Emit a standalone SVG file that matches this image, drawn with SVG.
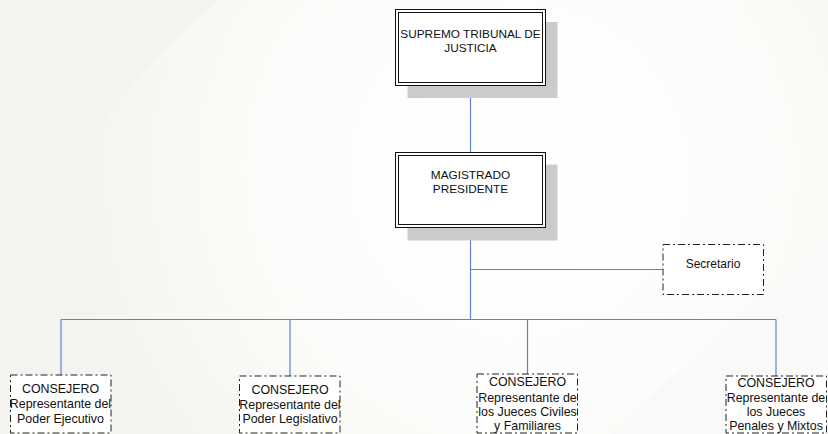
<svg xmlns="http://www.w3.org/2000/svg" width="828" height="434" viewBox="0 0 828 434">
<defs>
<radialGradient id="bg" cx="520" cy="170" r="460" gradientUnits="userSpaceOnUse">
<stop offset="0" stop-color="#ffffff"/>
<stop offset="0.55" stop-color="#fcfcfa"/>
<stop offset="1" stop-color="#f3f4ef"/>
</radialGradient>
<style>
.lbl{font-family:"Liberation Sans",Arial,sans-serif;font-size:12.4px;fill:#111;text-anchor:middle}
.top{font-size:11.8px}
.sec{font-size:12px}
.dbl{fill:#fff;stroke:#111;stroke-width:1}
.inner{fill:none;stroke:#111;stroke-width:1}
.shadow{fill:#cbcbcb}
.dash{fill:#fff;stroke:#222;stroke-width:1;stroke-dasharray:7 3 2 3}
.conn{stroke:#5a86c9;stroke-width:1.2;fill:none}
</style>
</defs>
<rect x="0" y="0" width="828" height="434" fill="#f3f4ef"/>
<path d="M220,0 C130,70 40,190 0,340 L0,434 L828,434 L828,0 Z" fill="url(#bg)"/>
<path d="M828,225 C760,300 680,370 610,434 L828,434 Z" fill="#f9f9f7"/>

<g id="connectors">
<line class="conn" x1="470.5" y1="85" x2="470.5" y2="152"/>
<line class="conn" x1="470.5" y1="227" x2="470.5" y2="319.5"/>
<line class="conn" x1="470.5" y1="269.5" x2="663" y2="269.5"/>
<line class="conn" x1="61" y1="319.5" x2="776" y2="319.5"/>
<line class="conn" x1="61" y1="319.5" x2="61" y2="375"/>
<line class="conn" x1="290" y1="319.5" x2="290" y2="376"/>
<line class="conn" x1="527.5" y1="319.5" x2="527.5" y2="374"/>
<line class="conn" x1="776" y1="319.5" x2="776" y2="376"/>
</g>

<g id="node-supremo">
<rect class="shadow" x="407.5" y="22" width="150" height="76"/>
<rect class="dbl" x="395.5" y="9.5" width="150" height="76"/>
<rect class="inner" x="398.5" y="12.5" width="144" height="70"/>
<text class="lbl top" x="470.5" y="37.5">SUPREMO TRIBUNAL DE</text>
<text class="lbl top" x="470.5" y="51.5">JUSTICIA</text>
</g>

<g id="node-magistrado">
<rect class="shadow" x="407.5" y="164.5" width="150" height="76"/>
<rect class="dbl" x="395.5" y="152.5" width="150" height="75"/>
<rect class="inner" x="398.5" y="155.5" width="144" height="69"/>
<text class="lbl top" x="470.5" y="178.5">MAGISTRADO</text>
<text class="lbl top" x="470.5" y="192.5">PRESIDENTE</text>
</g>

<g id="node-secretario">
<rect class="dash" x="663" y="244.5" width="100.5" height="50"/>
<text class="lbl sec" x="713" y="268">Secretario</text>
</g>

<g id="node-ejecutivo">
<rect class="dash" x="10.5" y="375" width="100.5" height="58"/>
<text class="lbl" x="60.5" y="392.5">CONSEJERO</text>
<text class="lbl" x="60.5" y="408">Representante del</text>
<text class="lbl" x="60.5" y="422.5">Poder Ejecutivo</text>
</g>

<g id="node-legislativo">
<rect class="dash" x="239.5" y="376" width="100.5" height="57"/>
<text class="lbl" x="290" y="393.5">CONSEJERO</text>
<text class="lbl" x="290" y="408.5">Representante del</text>
<text class="lbl" x="290" y="423">Poder Legislativo</text>
</g>

<g id="node-civiles">
<rect class="dash" x="477" y="374" width="100.5" height="59"/>
<text class="lbl" x="527.5" y="385.5">CONSEJERO</text>
<text class="lbl" x="527.5" y="401.5">Representante de</text>
<text class="lbl" x="527.5" y="415.5">los Jueces Civiles</text>
<text class="lbl" x="527.5" y="429.5">y Familiares</text>
</g>

<g id="node-penales">
<rect class="dash" x="726" y="376" width="100.5" height="57"/>
<text class="lbl" x="776" y="387">CONSEJERO</text>
<text class="lbl" x="776" y="401.5">Representante de</text>
<text class="lbl" x="776" y="415.5">los Jueces</text>
<text class="lbl" x="776" y="429.5">Penales y Mixtos</text>
</g>
</svg>
